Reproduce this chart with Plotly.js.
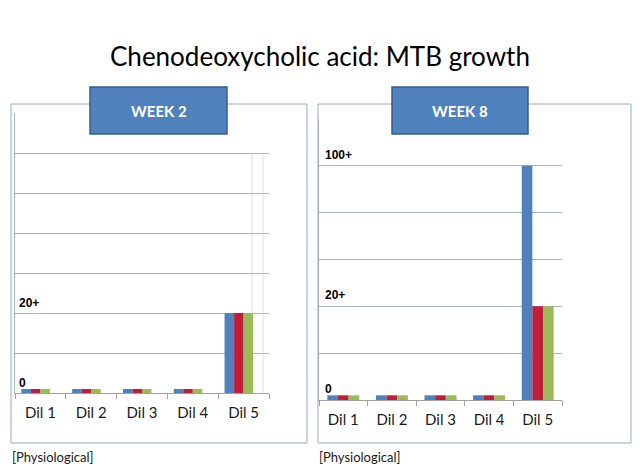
<!DOCTYPE html>
<html>
<head>
<meta charset="utf-8">
<script src="https://cdn.plot.ly/plotly-3.0.1.min.js"></script>
<style>
  html, body { margin: 0; padding: 0; background: #fff; }
  #chart { width: 640px; height: 472px; }
</style>
</head>
<body>
<div id="chart"></div>
<script>
// dilution categories
var categories = ['Dil 1', 'Dil 2', 'Dil 3', 'Dil 4', 'Dil 5'];

// week 2 growth (scale units, one gridline = 1)
var week2Blue  = [0.1, 0.1, 0.1, 0.1, 2];
var week2Red   = [0.1, 0.1, 0.1, 0.1, 2];
var week2Green = [0.1, 0.1, 0.1, 0.1, 2];

// week 8 growth
var week8Blue  = [0.1, 0.1, 0.1, 0.1, 5];
var week8Red   = [0.1, 0.1, 0.1, 0.1, 2];
var week8Green = [0.1, 0.1, 0.1, 0.1, 2];

// level labels
var week2Levels = [{v: 0, t: '0'}, {v: 2, t: '20+'}];
var week8Levels = [{v: 0, t: '0'}, {v: 2, t: '20+'}, {v: 5, t: '100+'}];

var BLUE = '#4F81BD', RED = '#BE1E3C', GREEN = '#9BBB59';
var GRID = '#A9B6CA';
var W = 640, H = 472;
function px(x) { return x / W; }
function py(y) { return 1 - y / H; }

function bar(y, color, xa, ya, width, offset) {
  return {
    type: 'bar', x: categories, y: y, xaxis: xa, yaxis: ya,
    width: width, offset: offset,
    marker: {color: color, line: {width: 0}},
    hoverinfo: 'skip'
  };
}

var data = [
  bar(week2Blue,  BLUE,  'x', 'y', 0.1875, -0.375),
  bar(week2Red,   RED,   'x', 'y', 0.1875, -0.1875),
  bar(week2Green, GREEN, 'x', 'y', 0.1875, 0),
  bar(week8Blue,  BLUE,  'x2', 'y2', 0.219, -0.329),
  bar(week8Red,   RED,   'x2', 'y2', 0.219, -0.110),
  bar(week8Green, GREEN, 'x2', 'y2', 0.219, 0.110)
];

function xAxis(domain, anchor) {
  return {
    domain: domain, anchor: anchor, type: 'category',
    showline: true, linecolor: '#A0A0A0', linewidth: 1,
    ticks: 'outside', tickson: 'boundaries', ticklen: 5, tickcolor: '#A0A0A0',
    ticklabelstandoff: 6,
    showgrid: false, zeroline: false, fixedrange: true,
    tickfont: {family: 'Lato, "Open Sans", sans-serif', size: 15, color: '#1a1a1a'}
  };
}
function yAxis(domain, anchor, top) {
  return {
    domain: domain, anchor: anchor, range: [0, top], dtick: 1,
    showticklabels: false, ticks: '', showgrid: true, gridcolor: GRID, gridwidth: 1,
    showline: true, linecolor: GRID, zeroline: false, fixedrange: true
  };
}

var labelFont = {family: '"Liberation Sans", Arial, sans-serif', size: 12, color: '#000'};
var annotations = [
  {text: 'Chenodeoxycholic acid: MTB growth', xref: 'paper', yref: 'paper',
   x: 0.5, y: py(56), xanchor: 'center', yanchor: 'middle', showarrow: false,
   font: {family: 'Lato, "Open Sans", sans-serif', size: 26, color: '#000'}},
  {text: '<b>WEEK 2</b>', xref: 'paper', yref: 'paper', x: px(158.5), y: py(110.5),
   xanchor: 'center', yanchor: 'middle', showarrow: false,
   font: {family: 'Lato, "Open Sans", sans-serif', size: 15, color: '#fff'}},
  {text: '<b>WEEK 8</b>', xref: 'paper', yref: 'paper', x: px(460), y: py(110.5),
   xanchor: 'center', yanchor: 'middle', showarrow: false,
   font: {family: 'Lato, "Open Sans", sans-serif', size: 15, color: '#fff'}},
  {text: '[Physiological]', xref: 'paper', yref: 'paper', x: px(10), y: py(457),
   xanchor: 'left', yanchor: 'middle', showarrow: false,
   font: {family: 'Lato, "Open Sans", sans-serif', size: 13, color: '#1a1a1a'}},
  {text: '[Physiological]', xref: 'paper', yref: 'paper', x: px(317), y: py(457),
   xanchor: 'left', yanchor: 'middle', showarrow: false,
   font: {family: 'Lato, "Open Sans", sans-serif', size: 13, color: '#1a1a1a'}}
];
week2Levels.forEach(function (l) {
  annotations.push({text: '<b>' + l.t + '</b>', xref: 'paper', yref: 'y', x: px(17), y: l.v,
    xanchor: 'left', yanchor: 'bottom', yshift: 1, showarrow: false, font: labelFont});
});
week8Levels.forEach(function (l) {
  annotations.push({text: '<b>' + l.t + '</b>', xref: 'paper', yref: 'y2', x: px(323), y: l.v,
    xanchor: 'left', yanchor: 'bottom', yshift: 2, showarrow: false, font: labelFont});
});

var shapes = [
  // panel frames
  {type: 'rect', xref: 'paper', yref: 'paper', x0: px(11), x1: px(307), y0: py(443), y1: py(104),
   line: {color: '#95AACB', width: 1}, fillcolor: 'rgba(0,0,0,0)', layer: 'above'},
  {type: 'rect', xref: 'paper', yref: 'paper', x0: px(318), x1: px(631), y0: py(443), y1: py(104),
   line: {color: '#95AACB', width: 1}, fillcolor: 'rgba(0,0,0,0)', layer: 'above'},
  // faint vertical guides in week 2 panel
  {type: 'line', xref: 'x', yref: 'y', x0: 4.165, x1: 4.165, y0: 0, y1: 6,
   line: {color: '#DADDE2', width: 1}, layer: 'below'},
  {type: 'line', xref: 'x', yref: 'y', x0: 4.38, x1: 4.38, y0: 0, y1: 6,
   line: {color: '#DADDE2', width: 1}, layer: 'below'},
  // header boxes
  {type: 'rect', xref: 'paper', yref: 'paper', x0: px(90), x1: px(227), y0: py(134), y1: py(87),
   line: {color: '#385D8A', width: 1.5}, fillcolor: '#4F81BD', layer: 'above'},
  {type: 'rect', xref: 'paper', yref: 'paper', x0: px(392), x1: px(528), y0: py(134), y1: py(87),
   line: {color: '#385D8A', width: 1.5}, fillcolor: '#4F81BD', layer: 'above'}
];

var layout = {
  width: W, height: H,
  margin: {l: 0, r: 0, t: 0, b: 0},
  paper_bgcolor: '#fff', plot_bgcolor: 'rgba(0,0,0,0)',
  showlegend: false, barmode: 'overlay',
  xaxis: xAxis([px(15), px(269)], 'y'),
  yaxis: yAxis([py(393), py(113)], 'x', 7),
  xaxis2: xAxis([px(319), px(562)], 'y2'),
  yaxis2: yAxis([py(400), py(119)], 'x2', 6),
  annotations: annotations,
  shapes: shapes
};

Plotly.newPlot('chart', data, layout, {displayModeBar: false, staticPlot: true});
</script>
</body>
</html>
